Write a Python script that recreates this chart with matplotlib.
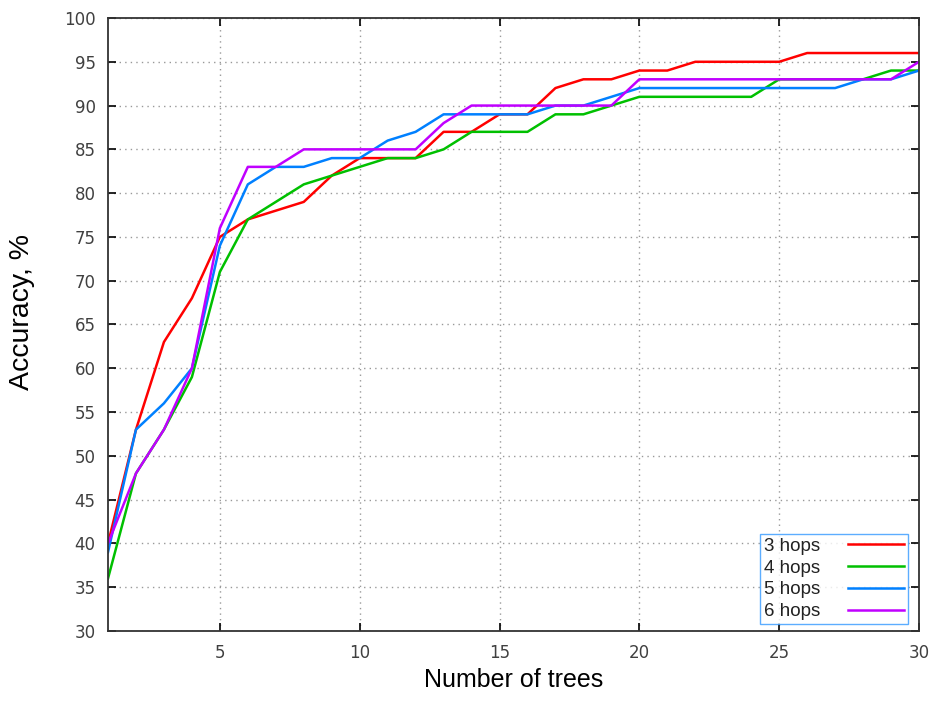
import matplotlib
matplotlib.use("Agg")
from matplotlib import pyplot as plt
import numpy as np

plt.rcParams['font.family'] = ['Liberation Sans', 'DejaVu Sans']

trees = list(range(1, 31))

# accuracy, % per number of trees
hops3 = [40, 53, 63, 68, 75, 77, 78, 79, 82, 84, 84, 84, 87, 87, 89,
         89, 92, 93, 93, 94, 94, 95, 95, 95, 95, 96, 96, 96, 96, 96]
hops4 = [36, 48, 53, 59, 71, 77, 79, 81, 82, 83, 84, 84, 85, 87, 87,
         87, 89, 89, 90, 91, 91, 91, 91, 91, 93, 93, 93, 93, 94, 94]
hops5 = [39, 53, 56, 60, 74, 81, 83, 83, 84, 84, 86, 87, 89, 89, 89,
         89, 90, 90, 91, 92, 92, 92, 92, 92, 92, 92, 92, 93, 93, 94]
hops6 = [40, 48, 53, 60, 76, 83, 83, 85, 85, 85, 85, 85, 88, 90, 90,
         90, 90, 90, 90, 93, 93, 93, 93, 93, 93, 93, 93, 93, 93, 95]

labels = ["3 hops", "4 hops", "5 hops", "6 hops"]
colors = ["#ff0000", "#00c000", "#0080ff", "#c000ff"]

fig = plt.figure(figsize=(9.34, 7.02), dpi=100)
ax = fig.add_axes([108/934, 1 - 631/702, 811/934, 613/702])

for ys, lab, c in zip([hops3, hops4, hops5, hops6], labels, colors):
    ax.plot(trees, ys, color=c, lw=1.8, label=lab)

ax.set_xlim(1, 30)
ax.set_ylim(30, 100)
ax.set_xticks(range(5, 31, 5))
ax.set_yticks(range(30, 101, 5))
ax.tick_params(direction='in', length=6, width=1.2, top=True, right=True,
               labelsize=12, labelcolor='#404040', pad=9)
for t in ax.get_xticklabels() + ax.get_yticklabels():
    t.set_fontfamily(['DejaVu Sans'])
ax.grid(True, linestyle=(0, (1, 3)), color='#999999', lw=1)
for s in ax.spines.values():
    s.set_linewidth(1.3)
    s.set_color('#333333')

ax.set_xlabel("Number of trees", fontsize=18)
ax.xaxis.set_label_coords(0.5, -0.06)
ax.set_ylabel("Accuracy, %", fontsize=20.5)
ax.yaxis.set_label_coords(-0.09, 0.52)

leg = ax.legend(loc='lower right', bbox_to_anchor=(0.9864, 0.0114),
                markerfirst=False, fontsize=13.5, frameon=True, fancybox=False,
                borderpad=0.2, borderaxespad=0, handlelength=3.0,
                handletextpad=1.5, labelspacing=0.25)
leg.get_frame().set_edgecolor('#3399ff')
leg.get_frame().set_linewidth(1.0)
for t in leg.get_texts():
    t.set_color('#222222')

fig.savefig("out.png", dpi=100)
